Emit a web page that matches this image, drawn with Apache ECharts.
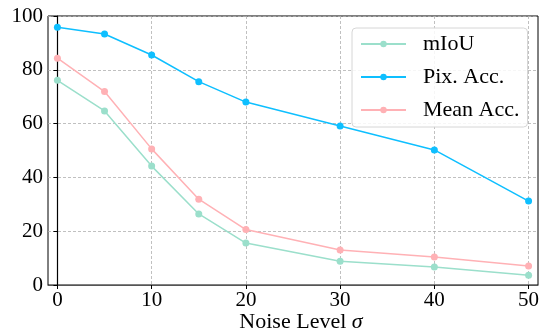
<!DOCTYPE html>
<html>
<head>
<meta charset="utf-8">
<script src="https://cdn.jsdelivr.net/npm/echarts@6/dist/echarts.min.js"></script>
<style>
  html, body { margin: 0; padding: 0; background: #fff; }
  #chart { width: 542px; height: 331px; }
</style>
</head>
<body>
<div id="chart"></div>
<script>
// noise levels (x) and the three metrics
const noiseLevels = [0, 5, 10, 15, 20, 30, 40, 50];
const miou = [76.1, 64.7, 44.2, 26.4, 15.6, 8.8, 6.7, 3.6];
const pixAcc = [95.8, 93.3, 85.5, 75.6, 68.0, 59.1, 50.2, 31.2];
const meanAcc = [84.3, 71.9, 50.6, 31.9, 20.6, 13.0, 10.4, 7.1];
const xTicks = [0, 10, 20, 30, 40, 50];

const font = '"Liberation Serif", "Times New Roman", serif';
const colors = { miou: '#9bdfcb', pix: '#0ebfff', mean: '#ffb1b5' };

const pair = arr => noiseLevels.map((x, i) => [x, arr[i]]);

const chart = echarts.init(document.getElementById('chart'));

function makeSeries(name, data, color) {
  return {
    name: name,
    type: 'line',
    data: pair(data),
    symbol: 'circle',
    symbolSize: 7,
    lineStyle: { color: color, width: 1.5 },
    itemStyle: { color: color },
    animation: false,
  };
}

chart.setOption({
  animation: false,
  grid: {
    left: 48, right: 4, top: 16, bottom: 46,
    outerBoundsMode: 'none', containLabel: false,
    show: true, borderColor: '#000', borderWidth: 1,
  },
  legend: {
    left: 352,
    top: 28,
    orient: 'vertical',
    itemWidth: 45,
    itemHeight: 8,
    itemGap: 11,
    padding: [5, 8, 6, 8],
    backgroundColor: 'rgba(255,255,255,0.85)',
    borderColor: '#d6d6d6',
    borderWidth: 1,
    borderRadius: 4,
    textStyle: { fontFamily: font, fontSize: 22, color: '#000', padding: [0, 0, 0, 12] },
    data: ['mIoU', 'Pix. Acc.', 'Mean Acc.'],
  },
  xAxis: {
    type: 'value',
    min: -1,
    max: 51,
    name: '{n|Noise Level }{s|σ}',
    nameLocation: 'middle',
    nameGap: 26,
    nameMoveOverlap: false,
    nameTextStyle: {
      padding: [0, 0, 0, 16],
      rich: {
        n: { fontFamily: font, fontSize: 22, color: '#000' },
        s: { fontFamily: font, fontSize: 22, color: '#000', fontStyle: 'italic' },
      },
    },
    axisLine: { onZero: false, lineStyle: { color: '#555', width: 1.2 } },
    axisTick: { show: true, length: 4, lineStyle: { color: '#000' }, customValues: xTicks },
    axisLabel: { fontFamily: font, fontSize: 21, color: '#000', margin: 5, customValues: xTicks },
    splitLine: { show: true, lineStyle: { color: '#b0b0b0', type: [3, 2], width: 0.8 } },
  },
  yAxis: {
    type: 'value',
    min: 0,
    max: 100,
    interval: 20,
    axisLine: { show: true, lineStyle: { color: '#000', width: 1.2 } },
    axisTick: { show: true, length: 4, lineStyle: { color: '#000' } },
    axisLabel: { fontFamily: font, fontSize: 21, color: '#000', margin: 5 },
    splitLine: { show: true, lineStyle: { color: '#b0b0b0', type: [3, 2], width: 0.8 } },
  },
  series: [
    makeSeries('mIoU', miou, colors.miou),
    makeSeries('Pix. Acc.', pixAcc, colors.pix),
    makeSeries('Mean Acc.', meanAcc, colors.mean),
  ],
});
</script>
</body>
</html>
